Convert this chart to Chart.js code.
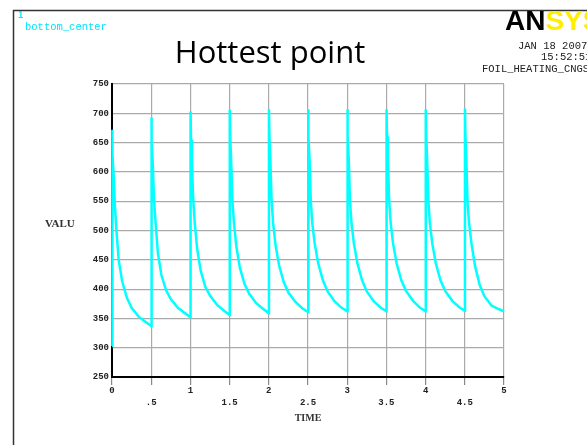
<!DOCTYPE html>
<html>
<head>
<meta charset="utf-8">
<script src="https://cdn.jsdelivr.net/npm/chart.js@4/dist/chart.umd.min.js"></script>
<style>
  html, body { margin: 0; padding: 0; background: #fff; }
  #wrap { position: relative; width: 587px; height: 445px; overflow: hidden; }
</style>
</head>
<body>
<div id="wrap"><canvas id="plot" width="587" height="445"></canvas></div>
<script>
// --- data (bottom_center node) ---
const time = [
  0,
  0.002, 0.008, 0.02, 0.035, 0.055, 0.085, 0.13, 0.19, 0.25, 0.34, 0.43, 0.5,
  0.502, 0.508, 0.52, 0.535, 0.555, 0.585, 0.63, 0.69, 0.75, 0.84, 0.93, 1.0,
  1.002, 1.008, 1.02, 1.035, 1.055, 1.085, 1.13, 1.19, 1.25, 1.34, 1.43, 1.5,
  1.502, 1.508, 1.52, 1.535, 1.555, 1.585, 1.63, 1.69, 1.75, 1.84, 1.93, 2.0,
  2.002, 2.008, 2.02, 2.035, 2.055, 2.085, 2.13, 2.19, 2.25, 2.34, 2.43, 2.5,
  2.502, 2.508, 2.52, 2.535, 2.555, 2.585, 2.63, 2.69, 2.75, 2.84, 2.93, 3.0,
  3.002, 3.008, 3.02, 3.035, 3.055, 3.085, 3.13, 3.19, 3.25, 3.34, 3.43, 3.5,
  3.502, 3.508, 3.52, 3.535, 3.555, 3.585, 3.63, 3.69, 3.75, 3.84, 3.93, 4.0,
  4.002, 4.008, 4.02, 4.035, 4.055, 4.085, 4.13, 4.19, 4.25, 4.34, 4.43, 4.5,
  4.502, 4.508, 4.52, 4.535, 4.555, 4.585, 4.63, 4.69, 4.75, 4.84, 4.93, 5.0
];
const valu = [
  303,
  672, 630, 598, 548, 503, 450, 413, 385, 368, 353, 344, 337,
  693, 650, 615, 555, 515, 462, 424, 398, 383, 368, 359, 352,
  703, 655, 618, 555, 514, 470, 432, 404, 389, 373, 363, 356,
  706, 658, 620, 553, 514, 474, 437, 409, 392, 376, 366, 359,
  707, 660, 620, 553, 513, 476, 441, 412, 394, 378, 367, 361,
  707, 660, 620, 552, 512, 478, 444, 415, 396, 379, 368, 362,
  707, 660, 620, 552, 512, 478, 444, 415, 396, 379, 368, 362,
  707, 661, 620, 552, 512, 478, 444, 415, 397, 380, 368, 362,
  707, 661, 620, 552, 512, 478, 444, 415, 397, 380, 369, 363,
  708, 662, 620, 548, 512, 478, 440, 407, 388, 372, 366, 362
];
const xTicks = [0, 0.5, 1, 1.5, 2, 2.5, 3, 3.5, 4, 4.5, 5];
const yTicks = [250, 300, 350, 400, 450, 500, 550, 600, 650, 700, 750];
const xTickLabels = ['0', '.5', '1', '1.5', '2', '2.5', '3', '3.5', '4', '4.5', '5'];

const points = time.map((t, i) => ({ x: t, y: valu[i] }));

// page furniture of the ANSYS window: frame, logo, date stamp, window labels
const ansysDecor = {
    id: 'ansysDecor',
    beforeDraw(chart) {
        const ctx = chart.ctx;
        ctx.save();
        ctx.fillStyle = '#fff';
        ctx.fillRect(0, 0, chart.width, chart.height);
        ctx.restore();
    },
    afterDraw(chart) {
        const ctx = chart.ctx;
        ctx.save();
        // outer window frame
        ctx.strokeStyle = '#333';
        ctx.lineWidth = 1.5;
        ctx.beginPath();
        ctx.moveTo(13.5, chart.height);
        ctx.lineTo(13.5, 10.5);
        ctx.lineTo(chart.width, 10.5);
        ctx.stroke();

        // window number + node name
        ctx.fillStyle = '#00e5ff';
        ctx.textBaseline = 'middle';
        ctx.font = 'bold 9px "DejaVu Sans Mono"';
        ctx.fillText('1', 18, 16);
        ctx.font = '10.5px "Liberation Mono"';
        ctx.fillText('bottom_center', 25, 27);

        // slide title
        ctx.fillStyle = '#000';
        ctx.font = '31px "Open Sans"';
        ctx.textAlign = 'center';
        ctx.fillText('Hottest point', 270, 54);

        // logo
        ctx.textAlign = 'left';
        ctx.font = 'bold 28px "Liberation Sans"';
        ctx.fillStyle = '#000';
        ctx.fillText('AN', 505, 22);
        const w = ctx.measureText('AN').width;
        ctx.fillStyle = '#ffee00';
        ctx.fillText('SYS', 505 + w, 22);

        // date / time / jobname
        ctx.fillStyle = '#222';
        ctx.font = '10.5px "Liberation Mono"';
        ctx.fillText('JAN 18 2007', 518, 46);
        ctx.fillText('15:52:51', 541, 57);
        ctx.fillText('FOIL_HEATING_CNGS', 482, 69);

        // y axis name, horizontal as in ANSYS
        ctx.font = 'bold 11px "Liberation Serif"';
        ctx.fillStyle = '#333';
        ctx.fillText('VALU', 45, 224);
        ctx.restore();
    }
};

const tickFont = { family: 'Liberation Mono', size: 9, weight: 'bold', lineHeight: 1.333 };

new Chart(document.getElementById('plot').getContext('2d'), {
    type: 'line',
    data: {
        datasets: [{
            label: 'VALU',
            data: points,
            borderColor: '#00ffff',
            borderWidth: 2.5,
            pointRadius: 0,
            tension: 0,
            fill: false,
            clip: 6
        }]
    },
    options: {
        responsive: false,
        animation: false,
        layout: { padding: { left: 0, right: 83, top: 84, bottom: 0 } },
        plugins: {
            legend: { display: false },
            tooltip: { enabled: false }
        },
        scales: {
            x: {
                type: 'linear',
                min: 0,
                max: 5,
                afterFit: function (scale) { scale.height = 68; },
                afterBuildTicks: function (scale) { scale.ticks = xTicks.map(v => ({ value: v })); },
                border: { color: '#000', width: 2 },
                grid: { color: '#aaa', lineWidth: 1.2, tickLength: 8, tickColor: '#888' },
                ticks: {
                    color: '#222',
                    font: tickFont,
                    padding: 0,
                    maxRotation: 0,
                    autoSkip: false,
                    callback: function (value) {
                        const i = xTicks.indexOf(value);
                        const txt = i >= 0 ? xTickLabels[i] : '';
                        // ANSYS staggers the half-step labels onto a second row
                        return i % 2 === 1 ? ['', txt] : [txt];
                    }
                },
                title: {
                    display: true,
                    text: 'TIME',
                    color: '#333',
                    font: { family: 'Liberation Serif', size: 10, weight: 'bold' },
                    padding: { top: 0, bottom: 21 }
                }
            },
            y: {
                type: 'linear',
                min: 250,
                max: 750,
                afterFit: function (scale) { scale.width = 112; },
                afterBuildTicks: function (scale) { scale.ticks = yTicks.map(v => ({ value: v })); },
                border: { color: '#000', width: 2 },
                grid: { color: '#aaa', lineWidth: 1.2, drawTicks: false },
                ticks: {
                    color: '#222',
                    font: tickFont,
                    padding: 3,
                    callback: function (value) { return String(value); }
                }
            }
        }
    },
    plugins: [ansysDecor]
});
</script>
</body>
</html>
